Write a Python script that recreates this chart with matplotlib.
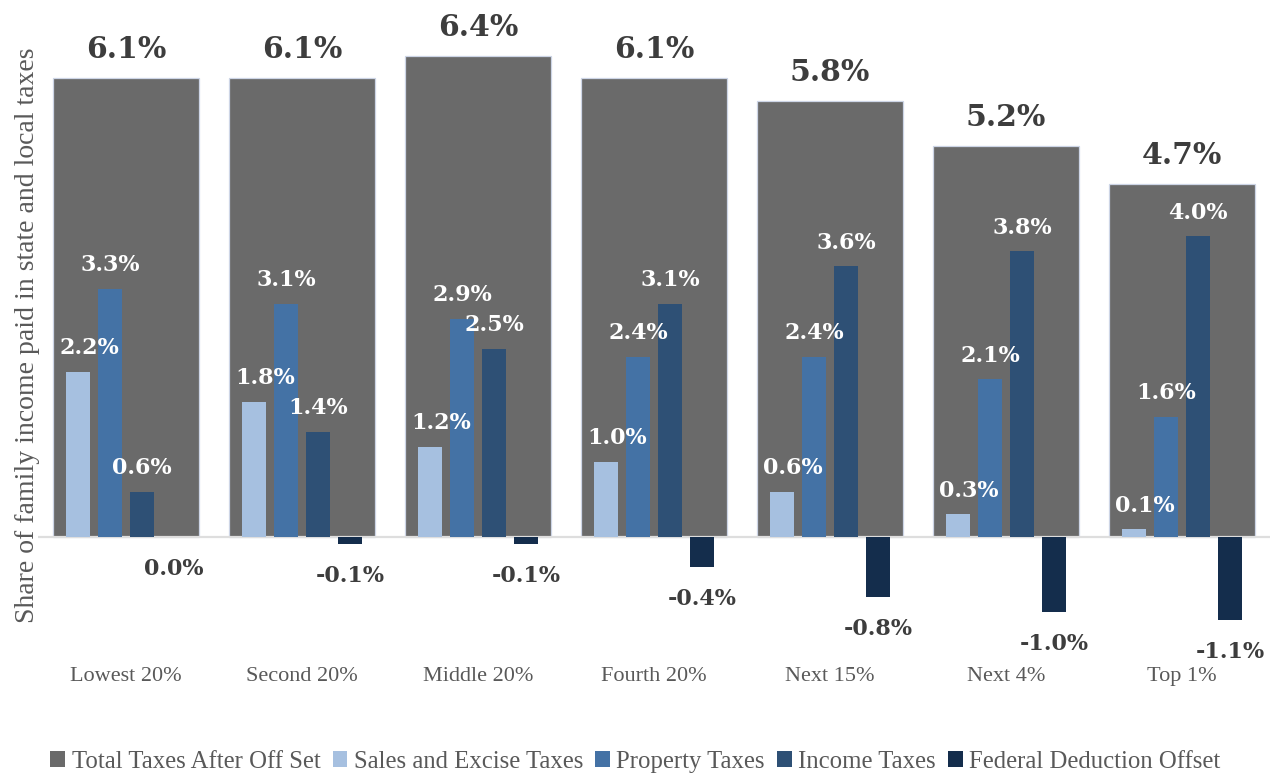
import matplotlib
matplotlib.use("Agg")
import matplotlib.pyplot as plt
import matplotlib.patches as mpatches
import numpy as np

# data (share of family income, %)
groups = ["Lowest 20%", "Second 20%", "Middle 20%", "Fourth 20%",
          "Next 15%", "Next 4%", "Top 1%"]
total_taxes = [6.1, 6.1, 6.4, 6.1, 5.8, 5.2, 4.7]
sales_excise = [2.2, 1.8, 1.2, 1.0, 0.6, 0.3, 0.1]
property_taxes = [3.3, 3.1, 2.9, 2.4, 2.4, 2.1, 1.6]
income_taxes = [0.6, 1.4, 2.5, 3.1, 3.6, 3.8, 4.0]
federal_offset = [0.0, -0.1, -0.1, -0.4, -0.8, -1.0, -1.1]

series_names = ["Total Taxes After Off Set", "Sales and Excise Taxes",
                "Property Taxes", "Income Taxes", "Federal Deduction Offset"]
colors = ["#6a6a6a", "#a6c0e0", "#4472a5", "#2e5075", "#142d4c"]

label_dark = "#3d3d3d"
text_gray = "#595959"
serif_reg = "Liberation Serif"
serif_bold = "DejaVu Serif"

fig = plt.figure(figsize=(12.71, 7.76), dpi=100)
ax = fig.add_axes([38 / 1271, 116 / 776, 1232 / 1271, 640 / 776])

x = np.arange(len(groups))
sub_w = 0.138
step = 0.182

# wide total bars in the background
ax.bar(x, total_taxes, 0.83, color=colors[0], edgecolor="#cdd5e6",
       linewidth=0.9, zorder=1)

subs = [sales_excise, property_taxes, income_taxes, federal_offset]
offsets = [-1.5, -0.5, 0.5, 1.5]
for vals, off, col in zip(subs, offsets, colors[1:]):
    ax.bar(x + off * step, vals, sub_w, color=col, zorder=2)

ax.axhline(0, color="#dedede", linewidth=1.6, zorder=1.5)

# labels on totals
for xi, v in zip(x, total_taxes):
    ax.annotate(f"{v:.1f}%", (xi, v), xytext=(0, 10), textcoords="offset points",
                ha="center", va="bottom", fontsize=21.5, fontweight="bold",
                family=serif_bold, color=label_dark, zorder=4)

# labels on component bars
for k, (vals, off) in enumerate(zip(subs, offsets)):
    dx = 8 if k == 0 else 0
    for xi, v in zip(x, vals):
        if k == 3:
            ax.annotate(f"{v:.1f}%", (xi + off * step, v), xytext=(0, -15),
                        textcoords="offset points", ha="center", va="top",
                        fontsize=16, fontweight="bold", family=serif_bold,
                        color=label_dark, zorder=4)
        else:
            ax.annotate(f"{v:.1f}%", (xi + off * step, v), xytext=(dx, 9),
                        textcoords="offset points", ha="center", va="bottom",
                        fontsize=16, fontweight="bold", family=serif_bold,
                        color="white", zorder=4)

ax.set_xlim(-0.5, len(groups) - 0.5)
ax.set_ylim(-1.636, 6.875)
ax.set_xticks(x)
ax.set_xticklabels(groups, fontsize=16, family=serif_reg, color=text_gray)
ax.tick_params(axis="x", length=0, pad=5)
ax.set_yticks([])
for s in ax.spines.values():
    s.set_visible(False)

fig.text(28 / 1271, 1 - 335 / 776, "Share of family income paid in state and local taxes",
         rotation=90, ha="center", va="center", fontsize=20, family=serif_reg,
         color=text_gray)

handles = [mpatches.Patch(facecolor=c, edgecolor="none", label=n)
           for c, n in zip(colors, series_names)]
fig.legend(handles=handles, loc="center", bbox_to_anchor=(0.5, 1 - 762 / 776),
           ncol=5, frameon=False, handlelength=0.6, handleheight=0.6,
           handletextpad=0.25, columnspacing=0.5,
           prop={"family": serif_reg, "size": 17.8}, labelcolor=text_gray)

fig.savefig("out.png", dpi=100)
